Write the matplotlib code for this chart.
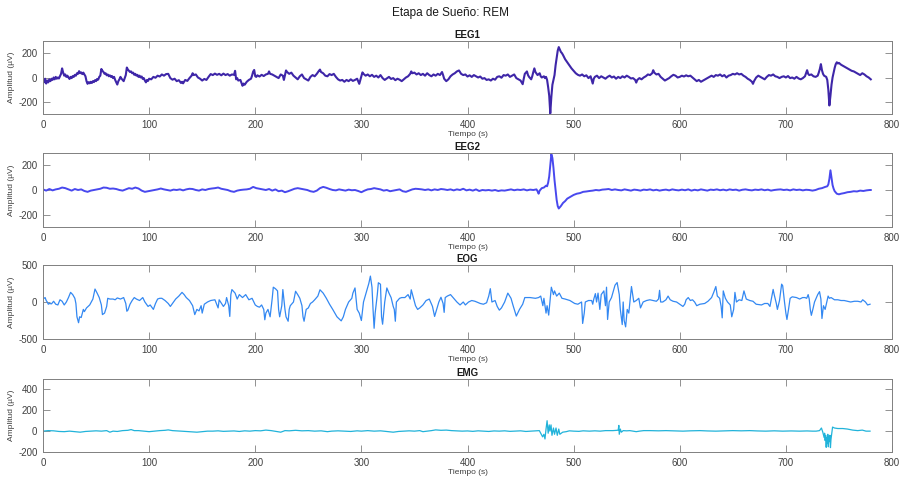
import matplotlib
matplotlib.use("Agg")
import matplotlib.pyplot as plt

# puntos: (tiempo s, amplitud uV)
eeg1 = [(0,-20),(1,-40),(2,-10),(3,-50),(4,-25),(5,-40),(6,-15),(7,-30),(8,-10),(9,-20),
        (10,0),(11,-15),(12,5),(13,-10),(14,0),(15,-8),(16,10),(17,30),(18,75),(19,40),
        (20,15),(21,25),(22,5),(23,15),(24,0),(25,-12),(26,5),(27,-5),(28,12),(29,5),
        (30,22),(31,15),(32,35),(33,30),(34,52),(35,35),(36,42),(37,28),(38,40),(39,25),
        (40,10),(41,-30),(42,-52),(43,-38),(44,-48),(45,-35),(46,-45),(47,-30),(48,-38),(49,-22),
        (50,-30),(51,-12),(52,-18),(53,5),(54,15),(55,70),(56,55),(57,45),(58,30),(59,35),
        (60,18),(61,25),(62,10),(63,18),(64,5),(65,12),(66,-5),(67,5),(68,-20),(69,-40),
        (70,-58),(71,-30),(72,-15),(73,5),(74,-10),(75,-20),(76,-30),(77,-5),(78,20),(79,82),
        (80,65),(81,55),(82,45),(83,50),(84,35),(85,40),(86,22),(87,30),(88,15),(89,22),
        (90,5),(91,15),(92,0),(93,8),(94,-12),(95,-5),(96,-25),(97,-40),(98,-20),(99,-28),
        (100,-10),(102,-15),(104,5),(106,-2),(108,15),(110,8),(112,25),(114,15),(116,28),(118,30),
        (119,12),(120,-5),(122,-18),(124,-10),(126,-30),(128,-22),(130,-45),(131,-35),(132,-48),(134,-20),
        (136,-28),(138,-5),(140,15),(141,35),(142,20),(144,25),(146,0),(148,-10),(150,-25),(152,-12),
        (154,-20),(156,5),(158,28),(160,20),(162,32),(164,22),(166,30),(168,18),(170,32),(172,20),
        (174,28),(176,15),(178,25),(180,22),(181,55),(182,-15),(183,-5),(184,-25),(186,-20),(187,-45),
        (188,-68),(189,-50),(190,-60),(192,-35),(194,-20),(196,-10),(197,15),(198,48),(199,62),(200,10),
        (201,5),(202,18),(204,8),(206,22),(208,12),(210,25),(212,30),(213,50),(214,30),(216,25),
        (218,15),(220,5),(222,-5),(224,25),(226,15),(227,-20),(228,20),(229,58),(230,45),(232,30),
        (234,40),(236,15),(238,0),(240,-15),(242,10),(244,25),(246,-5),(248,-15),(250,-25),(252,5),
        (254,20),(256,10),(258,30),(260,55),(261,65),(262,45),(264,35),(266,15),(268,10),(270,28),
        (272,20),(274,30),(276,5),(278,-15),(280,-25),(282,-20),(284,-35),(286,-20),(288,-30),(290,-15),
        (292,-28),(294,-20),(296,-10),(297,-30),(298,-52),(299,-20),(300,15),(301,42),(302,30),(304,15),
        (306,25),(308,10),(310,22),(312,5),(314,15),(316,0),(318,20),(320,-5),(322,-20),(324,-8),
        (326,5),(328,-12),(330,-5),(332,-22),(334,-10),(336,-18),(338,-30),(340,-15),(342,0),(344,10),
        (346,30),(347,50),(348,35),(350,40),(352,25),(354,35),(356,20),(358,30),(360,15),(362,35),
        (364,20),(366,10),(368,25),(370,15),(372,30),(374,20),(376,45),(377,20),(378,-10),(380,-30),
        (382,-15),(384,10),(386,25),(388,35),(390,50),(392,58),(394,30),(396,20),(398,25),(400,8),
        (402,18),(404,5),(406,20),(408,10),(410,0),(412,8),(414,-10),(416,-5),(418,-20),(420,-15),
        (422,-25),(424,-10),(426,-18),(428,5),(430,10),(432,-2),(434,20),(436,15),(438,25),(440,5),
        (442,15),(444,25),(446,-5),(448,-15),(450,-25),(452,-55),(453,-10),(454,30),(456,50),(457,20),
        (458,5),(460,-15),(461,10),(462,45),(463,75),(464,45),(466,20),(468,35),(469,10),(470,0),
        (472,10),(473,-5),(474,5),(475,-20),(476,-80),(477,-150),(478,-295),(479,-160),(480,-60),(481,-20),
        (482,20),(483,100),(484,160),(485,220),(486,250),(487,230),(488,210),(489,200),(490,185),(492,150),
        (494,125),(496,100),(498,75),(500,55),(502,35),(504,22),(506,15),(508,25),(510,10),(512,18),
        (514,-5),(516,10),(517,-20),(518,-50),(519,-10),(520,5),(522,15),(524,-5),(526,10),(528,0),
        (530,-10),(532,5),(534,15),(536,0),(538,8),(540,-10),(542,5),(544,-5),(546,10),(548,0),
        (550,15),(552,5),(554,-8),(556,-5),(558,-20),(559,-42),(560,-20),(562,-5),(564,-15),(566,0),
        (568,10),(570,25),(572,20),(574,35),(575,60),(576,40),(578,25),(580,30),(582,5),(584,-10),
        (586,-25),(588,-15),(590,-5),(592,10),(594,22),(596,15),(598,0),(600,5),(602,15),(604,8),
        (606,18),(608,10),(610,15),(612,0),(614,-15),(616,-30),(618,-20),(620,-35),(622,-25),(624,-15),
        (626,-5),(628,5),(630,15),(632,5),(634,20),(636,15),(638,25),(640,10),(642,20),(644,0),
        (646,15),(648,20),(650,30),(652,25),(654,35),(656,25),(658,30),(660,15),(662,5),(664,-10),
        (666,-20),(668,-35),(669,-52),(670,-30),(672,0),(674,15),(676,5),(678,-5),(680,-15),(682,5),
        (684,20),(686,15),(688,25),(690,10),(692,5),(694,-5),(696,5),(698,10),(700,0),(702,12),
        (704,-5),(706,0),(708,-10),(710,5),(712,-8),(714,-15),(716,-5),(718,10),(719,35),(720,60),
        (721,30),(722,20),(724,25),(726,10),(728,5),(730,15),(731,40),(732,70),(733,110),(734,60),
        (735,30),(736,15),(738,5),(739,-20),(740,-100),(741,-230),(742,-150),(743,-60),(744,0),(745,40),
        (746,80),(747,110),(748,125),(749,115),(750,120),(752,105),(754,95),(756,85),(758,75),(760,65),
        (762,55),(764,50),(766,40),(768,30),(770,20),(772,35),(774,25),(776,10),(778,0),(780,-15)]

eeg2 = [(0,5),(3,-5),(6,8),(9,-3),(12,5),(15,10),(18,20),(21,15),(24,5),(27,-5),
        (30,8),(33,0),(36,5),(39,-8),(42,-15),(45,-5),(48,0),(51,5),(54,10),(57,20),
        (60,18),(63,10),(66,12),(69,8),(72,0),(75,-5),(78,5),(81,15),(84,10),(87,20),
        (90,12),(93,-5),(96,-15),(99,-10),(102,-5),(105,0),(108,5),(111,12),(114,5),(117,0),
        (120,-5),(123,3),(126,0),(129,5),(132,-3),(135,5),(138,10),(141,8),(144,0),(147,-5),
        (150,5),(153,0),(156,8),(159,12),(162,15),(165,20),(168,10),(171,5),(174,0),(177,-10),
        (180,-15),(183,-5),(186,0),(189,3),(192,5),(195,10),(198,25),(201,15),(204,10),(207,5),
        (210,0),(213,8),(216,-5),(219,5),(222,-10),(225,-5),(228,-18),(231,-10),(234,0),(237,10),
        (240,15),(243,10),(246,5),(249,0),(252,-10),(255,-15),(258,-5),(261,15),(264,25),(267,18),
        (270,8),(273,0),(276,-3),(279,5),(282,0),(285,-5),(288,3),(291,-2),(294,0),(297,-8),
        (300,-18),(303,-5),(306,5),(309,8),(312,15),(315,10),(318,5),(321,-5),(324,0),(327,-10),
        (330,-5),(333,0),(336,5),(339,-10),(342,-15),(345,-5),(348,5),(351,10),(354,8),(357,5),
        (360,0),(363,5),(366,-3),(369,5),(372,0),(375,8),(378,5),(381,0),(384,5),(387,-3),
        (390,5),(393,0),(396,10),(399,-3),(402,3),(405,-5),(408,5),(411,-8),(414,0),(417,-3),
        (420,0),(423,-5),(426,0),(429,-8),(432,-3),(435,-5),(438,0),(441,5),(444,-2),(447,3),
        (450,0),(453,5),(456,-3),(459,3),(462,0),(465,5),(466,-10),(467,-30),(468,-5),(470,15),
        (472,20),(474,35),(475,30),(476,60),(477,110),(478,200),(479,290),(480,260),(481,180),(482,80),
        (483,0),(484,-80),(485,-130),(486,-150),(487,-140),(488,-130),(490,-105),(492,-90),(494,-70),(496,-60),
        (498,-50),(500,-40),(503,-30),(506,-25),(509,-15),(512,-12),(515,-8),(518,-5),(521,0),(524,-3),
        (527,3),(530,5),(533,8),(536,0),(539,5),(542,0),(545,-3),(548,5),(551,0),(554,-5),
        (557,3),(560,0),(563,-5),(566,3),(569,0),(572,5),(575,-3),(578,2),(581,-5),(584,0),
        (587,3),(590,-3),(593,5),(596,0),(599,-3),(602,3),(605,-2),(608,5),(611,-5),(614,2),
        (617,-3),(620,5),(623,0),(626,-5),(629,3),(632,0),(635,5),(638,-2),(641,3),(644,-3),
        (647,5),(650,0),(653,3),(656,-5),(659,2),(662,5),(665,0),(668,-3),(671,3),(674,0),
        (677,5),(680,-2),(683,3),(686,-5),(689,0),(692,3),(695,5),(698,0),(701,3),(704,-3),
        (707,5),(710,0),(713,3),(716,-3),(719,2),(722,0),(725,-5),(728,0),(731,10),(734,15),
        (737,25),(739,30),(740,45),(741,90),(742,160),(743,100),(744,40),(745,10),(746,-10),(748,-30),
        (750,-35),(752,-30),(755,-25),(758,-18),(761,-15),(764,-10),(767,-12),(770,-5),(773,-8),(776,-3),
        (779,0),(780,0)]

eog = [(0,40),(1,50),(2,60),(3,20),(4,0),(5,-30),(6,-20),(8,-25),(10,10),(12,-30),
       (14,-40),(16,30),(18,10),(20,-40),(22,0),(24,60),(26,130),(28,100),(30,50),(31,-20),
       (32,-200),(33.5,-280),(34.5,-200),(36,-210),(38,-100),(39,-130),(41,-80),(44,-40),(47,40),(49,175),
       (51,120),(53,60),(55,-40),(56,-170),(58,-150),(60,-60),(61,50),(63,40),(66,40),(68,30),
       (70,55),(73,40),(76,60),(78,-20),(79,-125),(80,-110),(82,-30),(84,20),(86,60),(88,40),
       (91,20),(94,60),(96,0),(99,-60),(101,-40),(104,-100),(106,-20),(108,40),(110,50),(112,50),
       (115,20),(118,-20),(120,-60),(122,-20),(125,40),(128,80),(131,130),(133,100),(135,60),(138,20),
       (141,-50),(143,-170),(145,-100),(147,-120),(149,-50),(150,-150),(152,-30),(155,0),(158,20),(162,30),
       (165,-80),(166,30),(170,-60),(172,-20),(173,60),(175,-50),(176,-195),(177,100),(178,168),(181,120),
       (183,40),(185,100),(188,60),(191,100),(194,30),(197,50),(200,-40),(202,-60),(204,-70),(206,-40),
       (208,-100),(209,-240),(210,-150),(212,-100),(214,-200),(216,50),(217,200),(219,180),(221,150),(222,-100),
       (223,-200),(225,-50),(226,168),(228,-100),(229,-200),(231,-260),(232,-100),(233,-50),(236,0),(238,145),
       (240,100),(242,50),(244,-50),(245,-200),(246,-260),(248,-100),(250,-80),(252,-20),(254,0),(256,30),
       (259,80),(261,165),(264,120),(267,50),(270,-30),(273,-100),(277,-200),(281,-255),(283,-200),(285,-100),
       (288,0),(291,50),(292,120),(294,190),(296,-100),(298,-150),(300,-250),(302,0),(304,100),(307,250),
       (308.5,350),(310,200),(311,-100),(312,-355),(313,-150),(315,100),(316,260),(318,240),(319,-200),(320,-300),
       (322,0),(324,190),(326,120),(328,60),(330,-60),(331,-100),(332,-260),(333,0),(336,50),(338,60),
       (341,60),(344,100),(346,40),(347,165),(349,60),(351,-50),(353,-100),(355,-80),(358,-40),(361,20),
       (364,40),(367,-60),(369,-195),(371,-100),(373,0),(375,64),(377,-20),(378,-140),(379,60),(381,80),
       (384,100),(387,50),(390,0),(393,-40),(396,0),(398,-40),(401,0),(404,20),(407,10),(412,-20),
       (415,-30),(418,-10),(420,80),(421.5,180),(423,0),(426,20),(428,-60),(430,-110),(432,-80),(435,0),
       (438,120),(441,50),(443,-50),(446,-190),(449,-100),(452,-30),(454,60),(459,60),(464,50),(467,60),
       (469,80),(471,-50),(472,50),(474,-150),(475,-50),(476.5,-177),(477.7,0),(479,200),(481,100),(482,150),
       (484,80),(486.5,120),(489,50),(492,40),(496.5,20),(501,-20),(504,-30),(507.5,0),(508.5,-290),(510,-150),
       (511,0),(514,20),(517,20),(518,-30),(519,40),(520.5,113),(521.6,0),(523,120),(524.7,-100),(526,100),
       (528.5,150),(530,-50),(531,200),(532,-236),(533.5,0),(535.7,60),(539,227),(541,263),(543,100),(544,-100),
       (545.8,-305),(546.7,0),(547.6,-250),(549,-336),(550.5,-100),(552,-150),(554.5,209),(556.7,0),(559,20),(561.4,50),
       (563,-80),(565.5,0),(568.7,20),(571.8,30),(575,20),(578,10),(580,40),(581,158),(582,0),(584,0),
       (587,30),(589,80),(591,30),(593.7,10),(597,0),(600,-30),(603,-60),(604.7,-30),(606,30),(608,60),
       (610,20),(612,30),(614,0),(616,-50),(619,-30),(623.5,-20),(626.6,10),(630,60),(632,130),(634,209),
       (635.4,80),(637.6,50),(639,-60),(640,-214),(641,150),(643,50),(645,0),(647.6,-40),(649,-200),(650.8,-100),
       (652,130),(653.4,0),(656,30),(658.5,20),(660.5,150),(662.7,40),(666,20),(669,10),(672,-30),(677,-40),
       (680,-20),(683,-20),(685,-60),(688,170),(689,100),(691,-20),(692,-100),(694,20),(696,241),(697,220),
       (698.7,0),(700,-150),(701,-236),(702.5,-100),(704,50),(706,70),(710,60),(713,40),(715.8,60),(718,60),
       (719.6,50),(721,100),(722,40),(723,-100),(724,-180),(725.4,-100),(727,0),(730,100),(731.7,140),(733,40),
       (734,-223),(735.4,-50),(737,-100),(738.5,0),(739.8,80),(741,50),(742.6,60),(745.8,30),(749,30),(752,20),
       (755,20),(758,10),(761,0),(764.6,10),(767.7,10),(770.8,0),(772.4,30),(775,0),(777,-40),(779.3,-30)]

emg = [(0,0),(5,5),(10,3),(15,-3),(20,-5),(25,0),(30,-5),(35,-10),(40,-3),(45,0),
       (50,3),(55,0),(60,5),(63,-10),(66,0),(70,-3),(75,5),(80,8),(83,15),(86,5),
       (90,5),(95,0),(100,-5),(105,0),(110,5),(115,8),(118,12),(122,5),(126,3),(130,0),
       (135,-3),(140,-5),(145,-10),(150,-5),(155,0),(160,0),(165,3),(170,-2),(175,0),(180,2),
       (185,-3),(190,3),(195,0),(200,5),(205,3),(210,10),(215,5),(220,-3),(224,-10),(228,5),
       (232,3),(238,8),(244,3),(250,5),(256,0),(262,3),(268,-5),(272,0),(278,3),(284,0),
       (290,-3),(296,3),(300,0),(306,5),(312,0),(318,3),(324,-3),(330,-10),(335,-3),(340,0),
       (345,3),(350,0),(355,5),(358,-5),(362,0),(366,5),(370,12),(375,8),(380,10),(385,5),
       (390,3),(395,0),(400,2),(405,-2),(410,3),(415,0),(420,-3),(425,2),(430,0),(435,3),
       (440,-2),(445,0),(450,3),(455,-3),(460,0),(465,2),(467.7,5),(469,-20),(470.8,-55),(472,-30),
       (473,-75),(474,20),(475,100),(476,-20),(477,60),(477.7,0),(478.7,60),(479.6,-40),(481,30),(482,-30),
       (483.4,30),(484.6,-40),(486,20),(487,-30),(489.7,-10),(493,-5),(496,3),(500,0),(505,-2),(509,3),
       (515,0),(520,3),(525,0),(530,5),(537,5),(541,8),(542,10),(542.6,55),(543,-30),(544,20),
       (545,-10),(546.7,5),(550,3),(553,5),(556,0),(559,-5),(562,0),(566,5),(572,5),(580,3),
       (587,5),(595,2),(603,0),(610,3),(619,5),(626,2),(634,0),(642,3),(650,5),(658,3),
       (666,5),(673,2),(681,0),(689,3),(697,0),(705,2),(713,0),(720,2),(725,0),(728.5,0),
       (731.7,5),(733.5,30),(734.8,-10),(736,-60),(736.5,-20),(737,-90),(737.5,-40),(738,-155),(738.5,-60),(739,-120),
       (739.5,-30),(740,-150),(740.5,-50),(741,-100),(741.5,-40),(742,-158),(742.5,-80),(743,-40),(744,39),(745.8,30),
       (749,25),(753.6,25),(758,20),(763,10),(767.7,5),(772,10),(775.5,0),(779.3,0)]

titles = ["EEG1", "EEG2", "EOG", "EMG"]
signals = [eeg1, eeg2, eog, emg]
colors = ["#3e26a8", "#4848ee", "#3388f2", "#21b3da"]
widths = [1.5, 1.4, 0.9, 0.9]
ylims = [(-300, 300), (-300, 300), (-500, 500), (-200, 500)]
yticks = [[-200, 0, 200], [-200, 0, 200], [-500, 0, 500], [-200, 0, 200, 400]]
xticks = [0, 100, 200, 300, 400, 500, 600, 700, 800]

plt.rcParams['font.family'] = ['Liberation Sans', 'DejaVu Sans']
plt.rcParams['axes.unicode_minus'] = False

fig = plt.figure(figsize=(9.01, 4.78), dpi=100)
# posiciones de los ejes en pixeles (arriba, abajo)
rows_px = [(41, 114), (153, 227), (265, 339), (379, 452)]
W, H = 901.0, 478.0

for i in range(4):
    top, bot = rows_px[i]
    ax = fig.add_axes([43 / W, 1 - bot / H, (892 - 43) / W, (bot - top) / H])
    t = [p[0] for p in signals[i]]
    v = [p[1] for p in signals[i]]
    ax.plot(t, v, color=colors[i], lw=widths[i])
    ax.set_xlim(0, 800)
    ax.set_ylim(*ylims[i])
    ax.set_xticks(xticks)
    ax.set_yticks(yticks[i])
    ax.tick_params(direction='in', top=True, right=True, length=5, width=0.6,
                   color='#808080', labelsize=7, labelcolor='#404040', pad=4)
    for s in ax.spines.values():
        s.set_color('#808080')
        s.set_linewidth(0.7)
    ax.set_title(titles[i], fontsize=7, fontweight='bold', pad=2, color='#1a1a1a')
    ax.set_xlabel("Tiempo (s)", fontsize=6, color='#404040', labelpad=1)
    ax.set_ylabel("Amplitud (µV)", fontsize=6, color='#404040', labelpad=2)

fig.suptitle("Etapa de Sueño: REM", fontsize=8.5, y=0.985, color='#1a1a1a')

plt.savefig("out.png", dpi=100)
